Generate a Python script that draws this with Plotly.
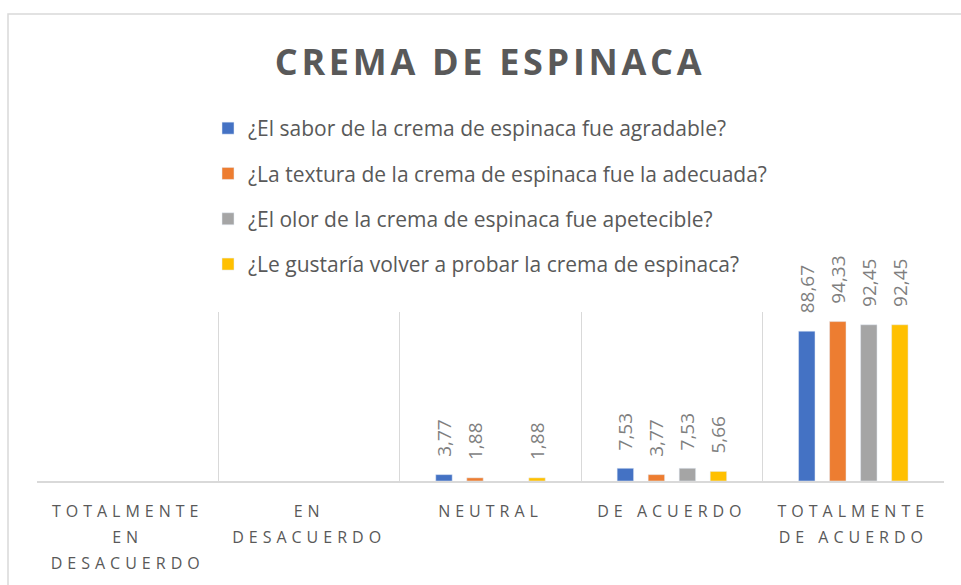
import plotly.graph_objects as go

categories = ["TOTALMENTE EN DESACUERDO", "EN DESACUERDO", "NEUTRAL", "DE ACUERDO", "TOTALMENTE DE ACUERDO"]
tick_lines = [["TOTALMENTE", "EN", "DESACUERDO"], ["EN", "DESACUERDO"], ["NEUTRAL"], ["DE ACUERDO"], ["TOTALMENTE", "DE ACUERDO"]]

series_names = [
    "¿El sabor de la crema de espinaca fue agradable?",
    "¿La textura de la crema de espinaca fue la adecuada?",
    "¿El olor de la crema de espinaca fue apetecible?",
    "¿Le gustaría volver a probar la crema de espinaca?",
]
sabor = [None, None, 3.77, 7.53, 88.67]
textura = [None, None, 1.88, 3.77, 94.33]
olor = [None, None, None, 7.53, 92.45]
volver = [None, None, 1.88, 5.66, 92.45]
series_values = [sabor, textura, olor, volver]
colors = ["#4472C4", "#ED7D31", "#A5A5A5", "#FFC000"]

W, H = 961, 585
ML, MR, MT, MB = 37, 17, 312, 104
PW, PH = W - ML - MR, H - MT - MB


def fmt(v):
    if v is None:
        return ""
    return "\u00a0\u00a0\u00a0" + f"{v:.2f}".replace(".", ",")


def spaced(s, ls, size=None):
    style = f"letter-spacing:{ls}px"
    if size:
        style += f";font-size:{size}px"
    return f'<span style="{style}">{s}</span>'


tick_text = ["<br>".join(spaced(l, 5, 16) for l in lines) for lines in tick_lines]

fig = go.Figure()
for i, (name, vals, col) in enumerate(zip(series_names, series_values, colors)):
    fig.add_trace(go.Bar(
        x=categories, y=vals, name=name, marker_color=col,
        text=[fmt(v) for v in vals], textposition="outside", textangle=-90,
        textfont=dict(family="Open Sans", size=19, color="#7f7f7f"),
        constraintext="none", cliponaxis=False, legendgroup=f"g{i}",
    ))


def px_x(p):
    return (p - ML) / PW


def px_y(p):
    return (H - MB - p) / PH


fig.update_layout(
    width=W, height=H,
    margin=dict(l=ML, r=MR, t=MT, b=MB),
    paper_bgcolor="white", plot_bgcolor="white",
    barmode="group", bargap=0.316, bargroupgap=0.47,
    title=dict(text=spaced("CREMA DE ESPINACA", 3.7), x=490 / W, xanchor="center",
               y=1 - 62 / H, yanchor="middle", yref="container",
               font=dict(family="Open Sans", size=36, color="#595959", weight="bold")),
    legend=dict(orientation="v", x=px_x(208), xanchor="left", y=px_y(108), yanchor="top",
                font=dict(family="Open Sans", size=21, color="#595959"),
                tracegroupgap=15, bgcolor="rgba(0,0,0,0)"),
    xaxis=dict(type="category", categoryorder="array", categoryarray=categories,
               tickmode="array", tickvals=categories, ticktext=tick_text,
               tickson="boundaries", showgrid=True, gridcolor="#d9d9d9", gridwidth=1,
               showline=True, linecolor="#d9d9d9", linewidth=1.5, ticks="",
               tickfont=dict(family="Open Sans", size=20, color="#595959"),
               ticklabelstandoff=10, range=[-0.5, 4.5]),
    yaxis=dict(range=[0, 100], visible=False),
    shapes=[dict(type="rect", xref="paper", yref="paper",
                 x0=px_x(8), x1=px_x(970), y0=px_y(595), y1=px_y(14),
                 line=dict(color="#d9d9d9", width=1.5), fillcolor="rgba(0,0,0,0)", layer="below")],
    showlegend=True,
)

fig.write_html("out.html", config={"displayModeBar": False},
               post_script="document.body.style.margin='0px';")
